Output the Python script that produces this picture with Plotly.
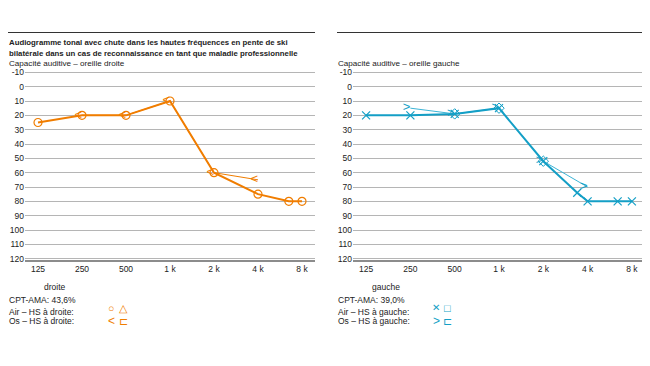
import plotly.graph_objects as go

# the page body adds an 8px margin; the figure is sized so that it fills the window
OFF = 8
W, H = 650 - OFF, 366 - OFF

# ---------------- data ----------------
freq_ticks = [125, 250, 500, 1000, 2000, 4000, 8000]
freq_labels = ["125", "250", "500", "1 k", "2 k", "4 k", "8 k"]
db_ticks = [-10, 0, 10, 20, 30, 40, 50, 60, 70, 80, 90, 100, 110, 120]
db_labels = ["-10", "0", "10", "20", "30", "40", "50", "60", "70", "80", "90", "100", "110", "120"]

right_air_f = [125, 250, 500, 1000, 2000, 4000, 6500, 8000]
right_air_db = [25, 20, 20, 10, 60, 75, 80, 80]
right_bone_f = [250, 500, 1000, 2000, 4000]
right_bone_db = [20, 20, 10, 60, 65]

left_air_f = [125, 250, 500, 1000, 2000, 3400, 4000, 6400, 8000]
left_air_db = [20, 20, 19, 15, 52, 74, 80, 80, 80]
left_bone_f = [250, 500, 1000, 2000, 4000]
left_bone_db = [15, 19, 15, 52, 70]
left_mask_f = [500, 1000, 2000]
left_mask_db = [19, 15, 52]

title_lines = ["Audiogramme tonal avec chute dans les hautes fréquences en pente de ski",
               "bilatérale dans un cas de reconnaissance en tant que maladie professionnelle"]
sub_right = "Capacité auditive – oreille droite"
sub_left = "Capacité auditive – oreille gauche"
cpt_right = "CPT-AMA: 43,6%"
cpt_left = "CPT-AMA: 39,0%"

ORANGE = "#F07D00"
BLUE = "#149FC6"
BLUE_THIN = "#3DB4D6"
FONT = "Liberation Sans"
TXT = "#222222"

def px(x):
    return (x - OFF) / W

def py(y):
    return 1 - (y - OFF) / H

fig = go.Figure()

# ---- right ear (left panel) ----
fig.add_trace(go.Scatter(x=right_bone_f, y=right_bone_db, mode="lines",
                         line=dict(color=ORANGE, width=1), xaxis="x", yaxis="y",
                         showlegend=False, hoverinfo="skip"))
fig.add_trace(go.Scatter(x=right_air_f, y=right_air_db, mode="lines+markers",
                         line=dict(color=ORANGE, width=2),
                         marker=dict(symbol="circle-open", size=8, color=ORANGE,
                                     line=dict(width=1.2, color=ORANGE)),
                         xaxis="x", yaxis="y", showlegend=False))
fig.add_trace(go.Scatter(x=right_bone_f, y=right_bone_db, mode="text",
                         text=["<"] * len(right_bone_f), textposition="middle left",
                         textfont=dict(family=FONT, size=13, color=ORANGE),
                         xaxis="x", yaxis="y", showlegend=False))

# ---- left ear (right panel) ----
fig.add_trace(go.Scatter(x=left_bone_f, y=left_bone_db, mode="lines",
                         line=dict(color=BLUE_THIN, width=1), xaxis="x2", yaxis="y2",
                         showlegend=False, hoverinfo="skip"))
fig.add_trace(go.Scatter(x=left_air_f, y=left_air_db, mode="lines+markers",
                         line=dict(color=BLUE, width=2),
                         marker=dict(symbol="x-thin-open", size=8, color=BLUE,
                                     line=dict(width=1.2, color=BLUE)),
                         xaxis="x2", yaxis="y2", showlegend=False))
fig.add_trace(go.Scatter(x=left_mask_f, y=left_mask_db, mode="markers",
                         marker=dict(symbol="diamond-open", size=8, color=BLUE,
                                     line=dict(width=1, color=BLUE)),
                         xaxis="x2", yaxis="y2", showlegend=False))
fig.add_trace(go.Scatter(x=left_bone_f, y=left_bone_db, mode="text",
                         text=[">"] * len(left_bone_f), textposition="middle left",
                         textfont=dict(family=FONT, size=13, color=BLUE),
                         xaxis="x2", yaxis="y2", showlegend=False))

y_top, y_bot = 70.9, 260.1
common_x = dict(type="log", range=[2.008, 3.992], tickvals=freq_ticks, ticktext=freq_labels,
                showgrid=False, zeroline=False, showline=True, linecolor="#8c8c8c",
                linewidth=2, ticks="", tickfont=dict(family=FONT, size=8.5, color=TXT),
                fixedrange=True, automargin=False)
common_y = dict(range=[121, -11], tickvals=db_ticks, ticktext=db_labels, showgrid=True,
                gridcolor="#b5b5b5", gridwidth=1.3, zeroline=False, showline=False, ticks="",
                tickfont=dict(family=FONT, size=8.5, color=TXT), fixedrange=True,
                automargin=False, domain=[py(y_bot), py(y_top)])

fig.update_layout(
    width=W, height=H, margin=dict(l=0, r=0, t=0, b=0, autoexpand=False),
    paper_bgcolor="white", plot_bgcolor="white", showlegend=False,
    xaxis=dict(common_x, domain=[px(25), px(315)], anchor="y"),
    yaxis=dict(common_y, anchor="x"),
    xaxis2=dict(common_x, domain=[px(353), px(645)], anchor="y2"),
    yaxis2=dict(common_y, anchor="x2"),
)

shapes = [
    dict(type="line", xref="paper", yref="paper", x0=px(8), x1=px(315), y0=py(32.5), y1=py(32.5),
         line=dict(color="#333333", width=1)),
    dict(type="line", xref="paper", yref="paper", x0=px(337), x1=px(645), y0=py(32.5), y1=py(32.5),
         line=dict(color="#333333", width=1)),
]
fig.update_layout(shapes=shapes)

ann = []
def text(x, y, s, size=8.5, bold=False, color=TXT, xanchor="left"):
    ann.append(dict(x=px(x), y=py(y), xref="paper", yref="paper", text=(f"<b>{s}</b>" if bold else s),
                    showarrow=False, xanchor=xanchor, yanchor="middle",
                    font=dict(family=FONT, size=size, color=color)))

text(7, 42.5, title_lines[0], size=7.8, bold=True)
text(7, 53, title_lines[1], size=7.8, bold=True)
text(7, 63.5, sub_right, size=8.1)
text(336, 63.5, sub_left, size=8.1)

# bottom info, right ear
text(55, 287, "droite", xanchor="center")
text(7, 300, cpt_right)
text(7, 312, "Air – HS à droite:")
text(7, 321, "Os – HS à droite:")
text(111, 307.5, "○", size=10.5, color=ORANGE, xanchor="center")
text(123, 307.5, "△", size=10.5, color=ORANGE, xanchor="center")
text(111, 320.5, "<", size=12, color=ORANGE, xanchor="center")
text(123, 320.5, "⊏", size=10.5, color=ORANGE, xanchor="center")

# bottom info, left ear
text(386, 287, "gauche", xanchor="center")
text(336, 300, cpt_left)
text(336, 312, "Air – HS à gauche:")
text(336, 321, "Os – HS à gauche:")
text(436, 307.5, "✕", size=10, color=BLUE, xanchor="center")
text(447, 307.5, "□", size=11, color=BLUE, xanchor="center")
text(436, 320.5, ">", size=12, color=BLUE, xanchor="center")
text(447, 320.5, "⊏", size=10.5, color=BLUE, xanchor="center")

fig.update_layout(annotations=ann)

fig.write_html("out.html")
